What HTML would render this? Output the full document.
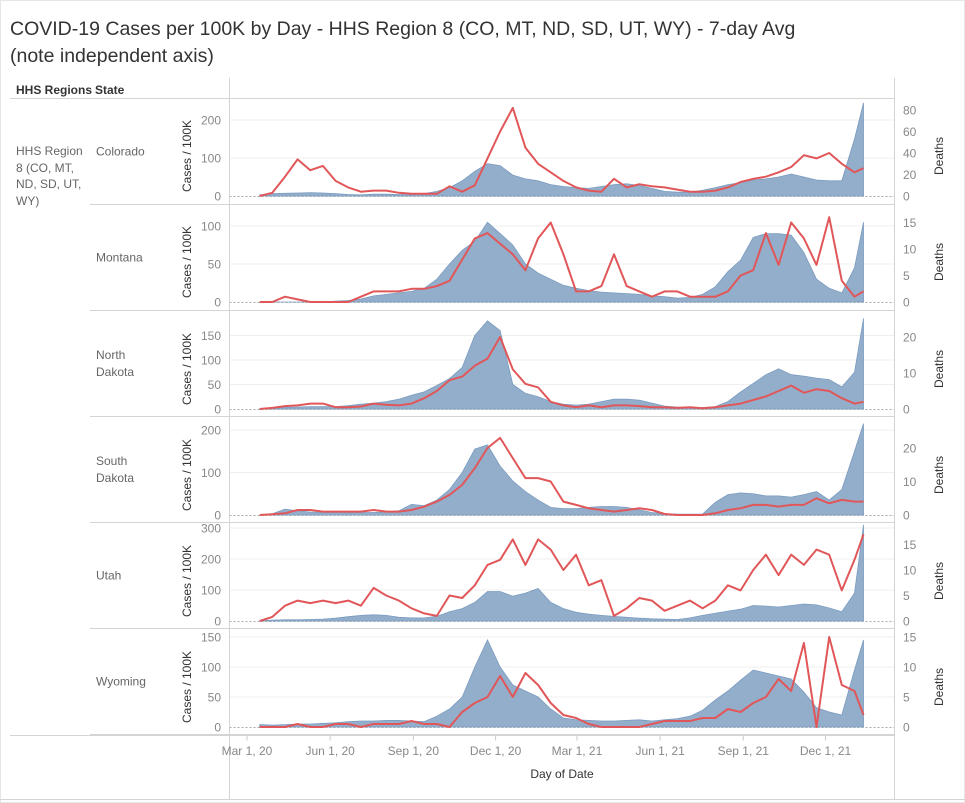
<!DOCTYPE html>
<html><head><meta charset="utf-8">
<style>
html,body{margin:0;padding:0;background:#fff;}
svg{display:block;font-family:"Liberation Sans",sans-serif;}
</style></head>
<body>
<svg id="chart" width="965" height="803" viewBox="0 0 965 803">
  <rect x="0.5" y="0.5" width="964" height="802" fill="#fff" stroke="#e6e6e6"/>
  <text x="10" y="35" font-size="19.5" fill="#333">COVID-19 Cases per 100K by Day - HHS Region 8 (CO, MT, ND, SD, UT, WY) - 7-day Avg</text>
  <text x="10" y="62" font-size="19.5" fill="#333">(note independent axis)</text>
  <text x="16" y="94" font-size="12" font-weight="bold" fill="#333">HHS Regions</text>
  <text x="95" y="94" font-size="12" font-weight="bold" fill="#333">State</text>
  <g fill="#666" font-size="12">
    <text x="16" y="155">HHS Region</text>
    <text x="16" y="172">8 (CO, MT,</text>
    <text x="16" y="188">ND, SD, UT,</text>
    <text x="16" y="205">WY)</text>
  </g>
  <g id="grid"></g>
  <g id="panels"></g>
  <g id="frame"></g>
  <g id="xaxis"></g>
  <text x="562" y="778" font-size="12" fill="#333" text-anchor="middle">Day of Date</text>
</svg>
<script>
const days = [14,28,42,56,70,84,98,112,126,140,154,168,182,196,210,224,238,252,266,280,294,308,322,336,350,364,378,392,406,420,434,448,462,476,490,504,518,532,546,560,574,588,602,616,630,644,658,672,682];
const coCases = [3,6,7,8,9,8,6,4,3,5,5,4,4,6,12,22,40,65,85,80,55,45,40,30,25,22,20,25,30,32,28,20,12,10,10,15,22,30,35,42,45,50,58,50,42,40,40,150,245];
const coDeaths = [0,3,18,34,24,28,14,8,4,5,5,3,2,2,2,9,4,10,35,60,82,45,30,22,14,8,5,4,16,8,11,9,8,6,4,4,5,8,13,16,18,22,27,38,35,40,30,22,26];
const mtCases = [0,0,0,0,0,0,1,2,4,8,10,12,14,18,30,50,68,80,105,90,75,50,38,30,22,18,15,13,12,11,10,8,7,5,6,10,20,40,55,85,90,90,88,65,30,18,12,45,105];
const mtDeaths = [0,0,1,0.5,0,0,0,0,1,2,2,2,2.5,2.5,3,4,8,12,13,11,9,6,12,15,9,2,2,3,9,3,2,1,2,2,1,1,1,2,5,6,13,7,15,12,7,16,4,1,2];
const ndCases = [1,2,3,4,5,5,5,7,10,12,15,20,28,35,48,62,85,150,180,160,50,32,25,15,10,8,10,15,20,20,18,12,6,4,3,3,5,15,35,52,70,82,70,67,63,60,45,75,185];
const ndDeaths = [0,0.3,0.8,1,1.5,1.5,0.5,0.5,0.7,1.5,1.2,1,1.5,3,5,8,9,12,14,20,11,7,6,2,1,0.5,1,0.5,1,1,0.8,0.5,0.5,0.3,0.5,0.2,0.5,1,1.5,2.5,3.5,5,6.5,4.5,5.5,5,3,1.5,2];
const sdCases = [0,3,14,10,7,6,6,5,6,6,7,10,25,22,35,60,100,155,165,115,80,55,35,18,15,15,18,20,20,18,12,6,3,2,2,2,30,48,52,50,45,45,42,48,55,35,60,150,215];
const sdDeaths = [0,0.2,0.5,1.5,1.5,1,1,1,1,1.5,1,1,1.5,2.5,4,6,9,14,20,23,17,11,11,10,4,3,2,1.5,1,1.5,2,1.5,0.3,0,0,0,0.5,1.5,2,3,3,2.5,3,3,5,3.5,4.5,4,4];
const utCases = [1,3,4,4,5,6,9,14,18,20,18,12,10,10,15,30,40,60,95,95,80,90,105,60,40,28,22,18,15,12,9,7,6,5,10,18,25,32,38,50,48,45,50,55,52,42,30,90,310];
const utDeaths = [0,0.8,3,4,3.5,4,3.5,4,3,6.5,5,4,2.5,1.5,1,5,4.5,7,11,12,16,11,16,14,10,13,7,8,1,2.5,4.5,4,2,3,4,2.5,4,7,6,10,13,9,13,11,14,13,6,12,17];
const wyCases = [4,3,4,5,5,6,7,9,10,10,11,11,10,9,18,30,50,100,145,100,70,60,50,30,15,12,11,10,10,11,12,10,12,14,18,28,45,60,78,95,90,85,80,58,32,25,20,95,145];
const wyDeaths = [0,0,0,0.5,0,0,0.5,0.5,0,0.5,0.5,0.5,1,0.5,0.5,0,2.5,4,5,8.5,5,9,7,4,2,1.5,0.5,0,0,0,0,0.5,1,1,1,1.5,1.5,3,2.5,4,5,8,6,14,0,15,7,6,2];
const stateNames = [["Colorado"],["Montana"],["North","Dakota"],["South","Dakota"],["Utah"],["Wyoming"]];
const caseTicks = [[0,100,200],[0,50,100],[0,50,100,150],[0,100,200],[0,100,200,300],[0,50,100,150]];
const deathTicks = [[0,20,40,60,80],[0,5,10,15],[0,10,20],[0,10,20],[0,5,10,15],[0,5,10,15]];
const xTickLabels = ["Mar 1, 20","Jun 1, 20","Sep 1, 20","Dec 1, 20","Mar 1, 21","Jun 1, 21","Sep 1, 21","Dec 1, 21"];
const xTickDays = [0,92,184,275,365,457,549,640];

const caseSeries = [coCases, mtCases, ndCases, sdCases, utCases, wyCases];
const deathSeries = [coDeaths, mtDeaths, ndDeaths, sdDeaths, utDeaths, wyDeaths];
const keys = ["colorado","montana","north-dakota","south-dakota","utah","wyoming"];
const layout = [
  {top:98.5, zero:196, cs:0.38, ds:1.075},
  {top:204.5, zero:302, cs:0.76, ds:5.3},
  {top:310.5, zero:409, cs:0.49, ds:3.6},
  {top:416.5, zero:515, cs:0.425, ds:3.35},
  {top:522.5, zero:621, cs:0.31, ds:5.1},
  {top:628.5, zero:727, cs:0.6, ds:6}
];
const X0 = 247, PXD = 0.904, LEFT = 229.5, RIGHT = 894.5, BOTTOM = 735.5;
const xs = d => X0 + d * PXD;
const NS = "http://www.w3.org/2000/svg";
function mk(tag, attrs, parent){
  const e = document.createElementNS(NS, tag);
  for (const k in attrs) e.setAttribute(k, attrs[k]);
  parent.appendChild(e);
  return e;
}
const grid = document.getElementById('grid');
const panels = document.getElementById('panels');
const frame = document.getElementById('frame');
const xaxis = document.getElementById('xaxis');

layout.forEach((L, i) => {
  const yc = v => L.zero - v * L.cs;
  const yd = v => L.zero - v * L.ds;
  const g = mk('g', {}, panels);
  
  
  caseTicks[i].forEach(t => {
    if (t > 0) {
      const gl = mk('line', {x1:LEFT, x2:RIGHT, y1:yc(t), y2:yc(t), stroke:'#efefef', 'stroke-width':1}, grid);
      
      
    }
    const tl = mk('text', {x:221, y:yc(t)+4.5, 'font-size':12, fill:'#888', 'text-anchor':'end'}, g);
    tl.textContent = t;
    
    
  });
  deathTicks[i].forEach(t => {
    const tl = mk('text', {x:903, y:yd(t)+4.5, 'font-size':12, fill:'#888'}, g);
    tl.textContent = t;
    
    
  });
  const zl = mk('line', {x1:LEFT, x2:RIGHT, y1:L.zero+0.5, y2:L.zero+0.5, stroke:'#aaa', 'stroke-width':1, 'stroke-dasharray':'2,2'}, g);
  
  
  const cs = caseSeries[i];
  let d = 'M' + xs(days[0]) + ',' + L.zero;
  cs.forEach((v, j) => { d += ' L' + xs(days[j]).toFixed(1) + ',' + yc(v).toFixed(1); });
  d += ' L' + xs(days[days.length-1]) + ',' + L.zero + ' Z';
  const area = mk('path', {d:d, fill:'#93aecb', stroke:'#7b9cc0', 'stroke-width':0.8}, g);
  
  
  const ds = deathSeries[i];
  let p = '';
  ds.forEach((v, j) => { p += (j ? ' L' : 'M') + xs(days[j]).toFixed(1) + ',' + yd(v).toFixed(1); });
  const line = mk('path', {d:p, fill:'none', stroke:'#e15759', 'stroke-width':2, 'stroke-linejoin':'round'}, g);
  
  
  const mid = L.top + 53;
  const at = mk('text', {x:0, y:0, 'font-size':12, fill:'#333', 'text-anchor':'middle', transform:'translate(191,' + (L.zero-40) + ') rotate(-90)'}, g);
  at.textContent = 'Cases / 100K';
  
  
  const dt = mk('text', {x:0, y:0, 'font-size':12, fill:'#333', 'text-anchor':'middle', transform:'translate(943,' + (L.zero-40) + ') rotate(-90)'}, g);
  dt.textContent = 'Deaths';
  
  
  const names = stateNames[i];
  names.forEach((n, k) => {
    const st = mk('text', {x:96, y:mid + 4 + (k - (names.length-1)/2) * 17, 'font-size':12, fill:'#666'}, g);
    st.textContent = n;
    
    
  });
  const sep = mk('line', {x1:90, x2:RIGHT, y1:L.top + 106, y2:L.top + 106, stroke:'#d4d4d4', 'stroke-width':1}, frame);
  
  
});

[[10,RIGHT,98.5,98.5],[10,RIGHT,BOTTOM,BOTTOM],[0,965,799.5,799.5]].forEach(a => {
  const l = mk('line', {x1:a[0], x2:a[1], y1:a[2], y2:a[3], stroke:'#d4d4d4', 'stroke-width':1}, frame);
  
  
});
[LEFT, RIGHT].forEach(x => {
  const l = mk('line', {x1:x, x2:x, y1:78, y2:799, stroke:'#d4d4d4', 'stroke-width':1}, frame);
  
  
});

xTickDays.forEach((dd, k) => {
  const tk = mk('line', {x1:xs(dd), x2:xs(dd), y1:BOTTOM, y2:BOTTOM+5, stroke:'#ccc'}, xaxis);
  
  
  const tl = mk('text', {x:xs(dd), y:755, 'font-size':12, fill:'#888', 'text-anchor':'middle'}, xaxis);
  tl.textContent = xTickLabels[k];
  
  
});
</script>
</body></html>
